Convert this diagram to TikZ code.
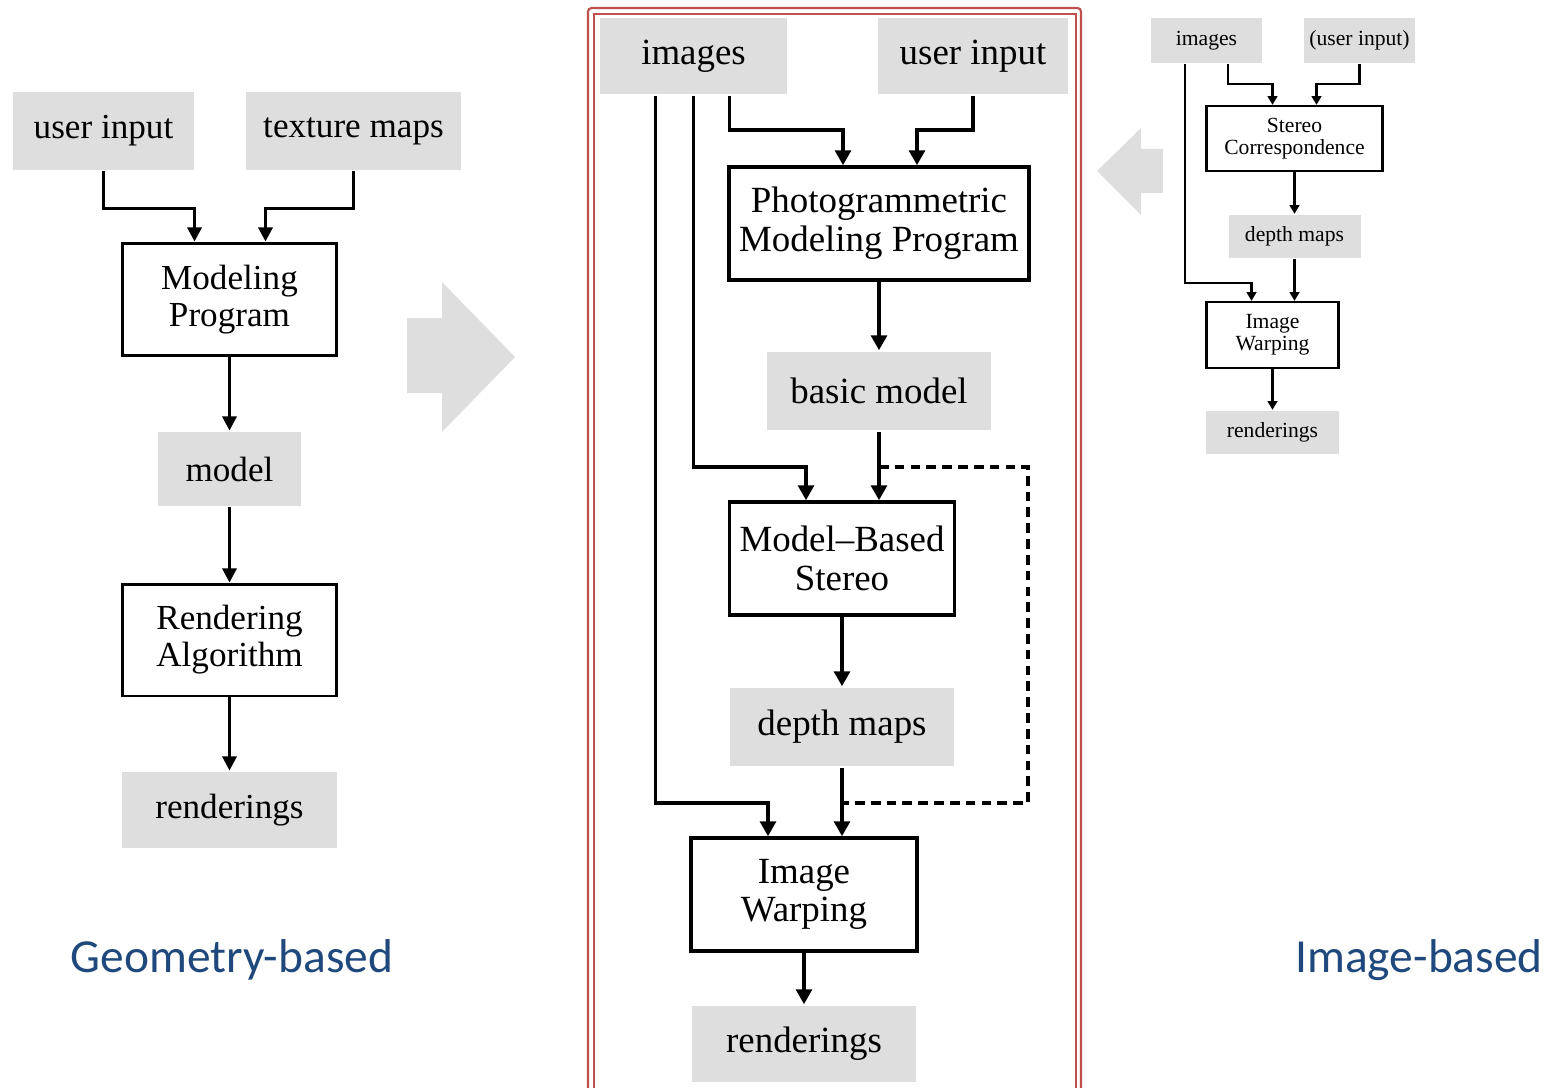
\documentclass[tikz,border=0pt]{standalone}
\usepackage{fontspec}
\setmainfont{Liberation Serif}
\newfontfamily\calibri{Carlito}
\usetikzlibrary{arrows.meta}
\definecolor{boxgray}{RGB}{222,222,222}
\definecolor{titleblue}{RGB}{31,73,125}
\definecolor{framered}{RGB}{192,80,77}

\begin{document}
\begin{tikzpicture}[x=0.02cm, y=-0.02cm,
    data/.style={fill=boxgray, inner sep=0pt, align=center},
    proc/.style={draw, inner sep=0pt, align=center},
    title/.style={text=titleblue, font=\calibri\fontsize{27}{30}\selectfont},
    shiftarrow/.style={fill=boxgray}]
  \useasboundingbox (0,0) rectangle (1552,1088);

  \begin{scope}[line width=1.7pt, font=\fontsize{20}{21}\selectfont,
      arr/.style={-{Triangle[width=8pt,length=8pt]}}]
    \node[data, minimum width=3.62cm, minimum height=1.56cm] (uin1) at (103.5,131) {user input};
    \node[data, minimum width=4.3cm, minimum height=1.56cm] (tex) at (353.5,131) {texture maps};
    \node[proc, minimum width=4.3cm, minimum height=2.26cm] (mp) at (229.5,299.5) {Modeling\\Program};
    \node[data, minimum width=2.86cm, minimum height=1.48cm] (model) at (229.5,469) {model};
    \node[proc, minimum width=4.3cm, minimum height=2.24cm] (ra) at (229.5,640) {Rendering\\Algorithm};
    \node[data, minimum width=4.3cm, minimum height=1.52cm] (rend1) at (229.5,810) {renderings};

    \draw[arr] (uin1.south) -- ++(0,37) -| ([xshift=-0.7cm]mp.north);
    \draw[arr] (tex.south) -- ++(0,37) -| ([xshift=0.72cm]mp.north);
    \draw[arr] (mp) -- (model);
    \draw[arr] (model) -- (ra);
    \draw[arr] (ra) -- (rend1);
  \end{scope}

  \fill[shiftarrow] (407,318) -- (442,318) -- (442,282) -- (515,357) -- (442,432) -- (442,393) -- (407,393) -- cycle;

  \draw[framered, line width=1.2pt, rounded corners=2pt] (588,8) rectangle (1081,1110);
  \draw[framered, line width=1.2pt] (594,14) rectangle (1076,1110);

  \begin{scope}[line width=2pt, font=\fontsize{21}{22}\selectfont,
      arr/.style={-{Triangle[width=9pt,length=8.5pt]}}]
    \node[data, minimum width=3.74cm, minimum height=1.52cm] (img) at (693.5,56) {images};
    \node[data, minimum width=3.8cm, minimum height=1.52cm] (uin2) at (973,56) {user input};
    \node[proc, minimum width=6cm, minimum height=2.26cm] (pmp) at (879,223.5) {Photogrammetric\\Modeling Program};
    \node[data, minimum width=4.48cm, minimum height=1.56cm] (bm) at (879,391) {basic model};
    \node[proc, minimum width=4.5cm, minimum height=2.26cm] (mbs) at (842,558.5) {Model--Based\\Stereo};
    \node[data, minimum width=4.5cm, minimum height=1.56cm] (dm2) at (842,727) {depth maps};
    \node[proc, minimum width=4.52cm, minimum height=2.26cm] (iw) at (804,894.5) {Image\\Warping};
    \node[data, minimum width=4.5cm, minimum height=1.52cm] (rend2) at (804,1044) {renderings};

    \draw[arr] ([xshift=0.72cm]img.south) -- ++(0,34) -| ([xshift=-0.72cm]pmp.north);
    \draw[arr] (uin2.south) -- ++(0,34) -| ([xshift=0.76cm]pmp.north);
    \draw[arr] (pmp) -- (bm);
    \draw[arr] (img.south) -- ++(0,371) -| ([xshift=-0.72cm]mbs.north);
    \draw[arr] (bm.south) -- (bm.south |- mbs.north);
    \draw[dashed, dash pattern=on 5.5pt off 3.5pt] ([yshift=-0.7cm]bm.south) -- ++(149,0) |- ([yshift=-0.7cm]dm2.south);
    \draw[arr] (mbs) -- (dm2);
    \draw[arr] ([xshift=-0.76cm]img.south) -- ++(0,707) -| ([xshift=-0.72cm]iw.north);
    \draw[arr] (dm2.south) -- (dm2.south |- iw.north);
    \draw[arr] (iw) -- (rend2);
  \end{scope}

  \fill[shiftarrow] (1163,149) -- (1141,149) -- (1141,128) -- (1097,171) -- (1141,215) -- (1141,193) -- (1163,193) -- cycle;

  \begin{scope}[line width=1.3pt, font=\fontsize{12.3}{12.8}\selectfont,
      arr/.style={-{Triangle[width=5.5pt,length=5pt]}}]
    \node[data, minimum width=2.22cm, minimum height=0.9cm] (img3) at (1206.5,40.5) {images};
    \node[data, minimum width=2.22cm, minimum height=0.9cm] (uin3) at (1359.5,40.5) {(user input)};
    \node[proc, minimum width=3.52cm, minimum height=1.3cm] (sc) at (1294.5,138.5) {Stereo\\Correspondence};
    \node[data, minimum width=2.64cm, minimum height=0.86cm] (dm3) at (1294.5,236.5) {depth maps};
    \node[proc, minimum width=2.64cm, minimum height=1.32cm] (iw3) at (1272.5,335) {Image\\Warping};
    \node[data, minimum width=2.66cm, minimum height=0.86cm] (rend3) at (1272.5,432.5) {renderings};

    \draw[arr] ([xshift=0.43cm]img3.south) -- ++(0,20) -| ([xshift=-0.44cm]sc.north);
    \draw[arr] (uin3.south) -- ++(0,20) -| ([xshift=0.44cm]sc.north);
    \draw[arr] (sc) -- (dm3);
    \draw[arr] ([xshift=-0.43cm]img3.south) -- ++(0,219) -| ([xshift=-0.42cm]iw3.north);
    \draw[arr] (dm3.south) -- (dm3.south |- iw3.north);
    \draw[arr] (iw3) -- (rend3);
  \end{scope}

  \node[title] (geo) at (232,960) {Geometry-based};
  \node[title] (ibr) at (1419,960) {Image-based};
\end{tikzpicture}
\end{document}
